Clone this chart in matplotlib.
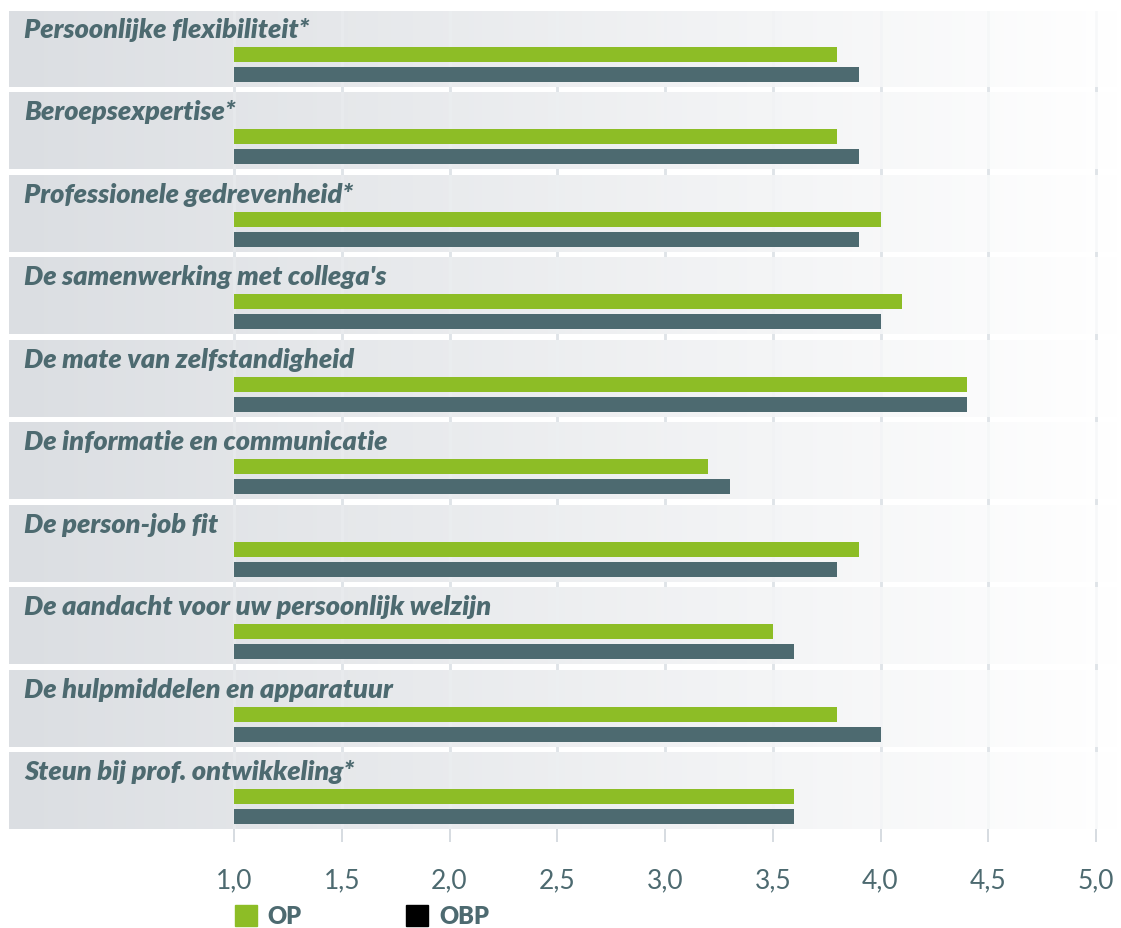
import numpy as np
import matplotlib
matplotlib.use("Agg")
import matplotlib.pyplot as plt
from matplotlib.colors import LinearSegmentedColormap
from matplotlib.patches import Patch
from matplotlib.ticker import FuncFormatter
import matplotlib.transforms as mtransforms

categories = [
    "Persoonlijke flexibiliteit*",
    "Beroepsexpertise*",
    "Professionele gedrevenheid*",
    "De samenwerking met collega's",
    "De mate van zelfstandigheid",
    "De informatie en communicatie",
    "De person-job fit",
    "De aandacht voor uw persoonlijk welzijn",
    "De hulpmiddelen en apparatuur",
    "Steun bij prof. ontwikkeling*",
]
op = [3.8, 3.8, 4.0, 4.1, 4.4, 3.2, 3.9, 3.5, 3.8, 3.6]
obp = [3.9, 3.9, 3.9, 4.0, 4.4, 3.3, 3.8, 3.6, 4.0, 3.6]
ticks = [1.0, 1.5, 2.0, 2.5, 3.0, 3.5, 4.0, 4.5, 5.0]

GREEN = "#8dbd26"
SLATE = "#4d6a70"
TEXT = "#4d6a70"
GRID = "#d6dce1"

W, H = 1121, 929
fig = plt.figure(figsize=(W / 100, H / 100), dpi=100)
ax = fig.add_axes([9 / W, 1 - 830 / H, (W - 9) / W, (830 - 12) / H])

px_per_unit = (1096 - 234) / 4.0
xmin = 1.0 - (234 - 9) / px_per_unit
xmax = 1.0 + (W - 234) / px_per_unit
band_h = 76 / 82.4
n = len(categories)

cmap = LinearSegmentedColormap.from_list("band", ["#dbdee2", "#ffffff"])
grad = np.linspace(0, 1, 256).reshape(1, -1)
for i in range(n):
    ax.imshow(grad, cmap=cmap, extent=(xmin, xmax, i + band_h, i),
              aspect="auto", zorder=1)

for t in ticks:
    ax.axvline(t, color=GRID, lw=2, zorder=0)
    ax.axvline(t, color="#eef1f3", lw=2, alpha=0.4, zorder=1.5)

y = np.arange(n)
bh = 15 / 82.4
ax.barh(y + 43.5 / 82.4, np.array(op) - 1, left=1, height=bh, color=GREEN, zorder=3)
ax.barh(y + 63.5 / 82.4, np.array(obp) - 1, left=1, height=bh, color=SLATE, zorder=3)

trans = mtransforms.blended_transform_factory(ax.transAxes, ax.transData)
for i, c in enumerate(categories):
    ax.text(15 / (W - 9), i + 26 / 82.4, c, transform=trans, color=TEXT,
            fontsize=19.5, fontweight="heavy", fontstyle="italic",
            family=["Lato", "DejaVu Sans"], va="baseline", zorder=4)

ax.set_xlim(xmin, xmax)
ax.set_ylim(n - 1 + band_h, 0)
ax.set_xticks(ticks)
ax.xaxis.set_major_formatter(FuncFormatter(lambda v, p: f"{v:.1f}".replace(".", ",")))
ax.tick_params(axis="x", length=9.4, width=1.4, color=GRID, pad=18,
               labelsize=19, labelcolor=TEXT)
for lab in ax.get_xticklabels():
    lab.set_family(["Lato", "DejaVu Sans"])
ax.set_yticks([])
for s in ax.spines.values():
    s.set_visible(False)

handles = [Patch(color=GREEN, label="OP"), Patch(color="black", label="OBP")]
fig.legend(handles=handles, loc="upper left", bbox_to_anchor=(223 / W, 1 - 894 / H),
           ncol=2, frameon=False, borderpad=0, handlelength=0.95, handleheight=1.0,
           handletextpad=0.45, columnspacing=4.4, labelcolor=TEXT,
           prop={"family": ["Lato", "DejaVu Sans"], "weight": "heavy", "size": 17})

fig.savefig("out.png", dpi=100)
